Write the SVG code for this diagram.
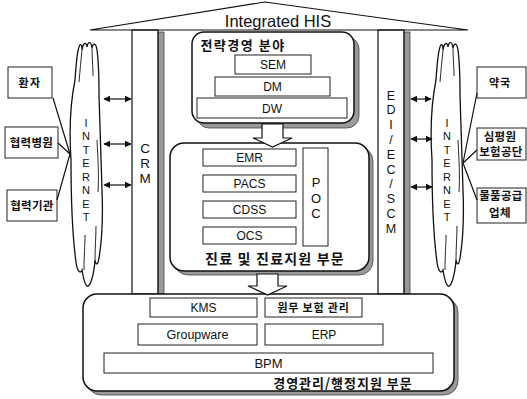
<svg xmlns="http://www.w3.org/2000/svg" width="527" height="399" viewBox="0 0 527 399">
<style>
.ln{fill:none;stroke:#111;stroke-width:1.2}
.bx{fill:#fff;stroke:#222;stroke-width:1}
.big{fill:#fff;stroke:#111;stroke-width:1.5}
.sh{fill:#9a9a9a;stroke:#444;stroke-width:0.8}
.en{font-family:"Liberation Sans",Arial,sans-serif;fill:#111;text-anchor:middle}
.ko{font-family:"Noto Sans CJK KR","Noto Sans",sans-serif;fill:#111;text-anchor:middle;font-weight:700}
.cl{fill:#fff;stroke:#111;stroke-width:1.3}
.cr{fill:none;stroke:#111;stroke-width:0.9}
</style>
<defs>
<marker id="ah" viewBox="0 0 10 10" refX="9" refY="5" markerWidth="7" markerHeight="7" orient="auto-start-reverse" markerUnits="userSpaceOnUse">
<path d="M0,0 L10,5 L0,10 Z" fill="#111"/>
</marker>
<path id="cloud" d="M71 160 C69 130 71 100 75 80 C76 65 77 52 79 47 C80 43 82 44 82 50 C83 43 86 41 87 47 C88 41 91 41 92 48 C93 42 96 43 97 50 C99 65 99 80 99 95 C100 130 101 160 102 190 C103 215 102 240 99 258 C98 265 96 266 95 260 C94 275 90 288 87 286 C84 284 83 275 82 270 C80 275 77 270 76 262 C73 240 71 200 71 160 Z"/>
</defs>
<rect width="527" height="399" fill="#fff"/>

<g id="roof">
<path class="ln" d="M90 30 L265 2 L468 30 Z"/>
<text class="en" x="278" y="27" font-size="16.5">Integrated HIS</text>
</g>

<g id="crm">
<rect class="sh" x="158" y="32" width="6" height="262"/>
<rect class="ln" x="132" y="30" width="26" height="264"/>
<text class="en" font-size="13.5"><tspan x="145" y="153">C</tspan><tspan x="145" y="168">R</tspan><tspan x="145" y="183">M</tspan></text>
</g>

<g id="edi">
<rect class="sh" x="404" y="32" width="6" height="262"/>
<rect class="ln" x="378" y="30" width="26" height="264"/>
<text class="en" font-size="12.5"><tspan x="391" y="99.5">E</tspan><tspan x="391" y="114.3">D</tspan><tspan x="391" y="129.1">I</tspan><tspan x="391" y="143.9">/</tspan><tspan x="391" y="158.7">E</tspan><tspan x="391" y="173.5">C</tspan><tspan x="391" y="188.3">/</tspan><tspan x="391" y="203.1">S</tspan><tspan x="391" y="217.9">C</tspan><tspan x="391" y="232.7">M</tspan></text>
</g>

<g id="internet-left">
<use href="#cloud" class="cl"/>
<path class="cr" d="M82 50 C81 60 80 70 79 82 M92 48 C92 58 93 66 93 76 M97 140 C98 160 99 175 98 192 M84 270 C84 255 85 245 85 235 M95 260 C95 247 96 237 96 226"/>
<text class="en" font-size="11"><tspan x="86" y="126.5">I</tspan><tspan x="86" y="140">N</tspan><tspan x="86" y="153.5">T</tspan><tspan x="86" y="167">E</tspan><tspan x="86" y="180.5">R</tspan><tspan x="86" y="194">N</tspan><tspan x="86" y="207.5">E</tspan><tspan x="86" y="221">T</tspan></text>
</g>

<g id="internet-right">
<use href="#cloud" class="cl" transform="translate(361,0)"/>
<path class="cr" transform="translate(361,0)" d="M82 50 C81 60 80 70 79 82 M92 48 C92 58 93 66 93 76 M97 140 C98 160 99 175 98 192 M84 270 C84 255 85 245 85 235 M95 260 C95 247 96 237 96 226"/>
<text class="en" font-size="11"><tspan x="447" y="126.5">I</tspan><tspan x="447" y="140">N</tspan><tspan x="447" y="153.5">T</tspan><tspan x="447" y="167">E</tspan><tspan x="447" y="180.5">R</tspan><tspan x="447" y="194">N</tspan><tspan x="447" y="207.5">E</tspan><tspan x="447" y="221">T</tspan></text>
</g>

<g id="patient"><rect class="bx" x="8" y="67" width="44" height="31"/><text class="ko" x="30" y="87" font-size="11" letter-spacing="1.5">환자</text></g>
<g id="partner-hospital"><rect class="bx" x="5" y="127" width="53" height="31"/><text class="ko" x="31.5" y="147" font-size="11.5" letter-spacing="0.3">협력병원</text></g>
<g id="partner-org"><rect class="bx" x="7" y="190" width="50" height="31"/><text class="ko" x="32" y="210" font-size="11.5" letter-spacing="0.3">협력기관</text></g>
<g id="pharmacy"><rect class="bx" x="477" y="67" width="49" height="31"/><text class="ko" x="500" y="87" font-size="11" letter-spacing="1">약국</text></g>
<g id="hira"><rect class="bx" x="477" y="128" width="49" height="32"/><text class="ko" font-size="11.5" letter-spacing="0.3"><tspan x="500" y="141">심평원</tspan><tspan x="501" y="156">보험공단</tspan></text></g>
<g id="supplier"><rect class="bx" x="477" y="188" width="49" height="35"/><text class="ko" font-size="11.5" letter-spacing="0.3"><tspan x="501" y="200">물품공급</tspan><tspan x="500" y="217">업체</tspan></text></g>

<g id="strategy">
<rect class="sh" x="197" y="37" width="162" height="91" rx="12"/>
<rect class="big" x="192" y="32" width="162" height="91" rx="12"/>
<text class="ko" x="243" y="50" font-size="13" letter-spacing="1.5">전략경영 분야</text>
<rect class="bx" x="235" y="55" width="76" height="19"/><text class="en" x="273" y="69" font-size="12">SEM</text>
<rect class="bx" x="215" y="77" width="115" height="19"/><text class="en" x="272.5" y="91" font-size="12">DM</text>
<rect class="bx" x="197" y="98" width="150" height="20"/><text class="en" x="272" y="112.5" font-size="12">DW</text>
</g>

<g id="clinical">
<rect class="sh" x="174" y="147" width="199" height="128" rx="14"/>
<rect class="big" x="170" y="143" width="199" height="128" rx="14"/>
<rect class="bx" x="203" y="149" width="93" height="17"/><text class="en" x="249.5" y="162" font-size="12">EMR</text>
<rect class="bx" x="203" y="175" width="93" height="17"/><text class="en" x="249.5" y="188" font-size="12">PACS</text>
<rect class="bx" x="203" y="201" width="93" height="17"/><text class="en" x="249.5" y="214" font-size="12">CDSS</text>
<rect class="bx" x="203" y="227" width="93" height="17"/><text class="en" x="249.5" y="240" font-size="12">OCS</text>
<rect class="bx" x="303" y="148" width="25" height="98"/>
<text class="en" font-size="13"><tspan x="316" y="187">P</tspan><tspan x="316" y="203">O</tspan><tspan x="316" y="218">C</tspan></text>
<text class="ko" x="275" y="264" font-size="14" letter-spacing="1.2">진료 및 진료지원 부문</text>
</g>

<g id="management">
<rect class="sh" x="87" y="298" width="371" height="97" rx="14"/>
<rect class="big" x="83" y="294" width="371" height="97" rx="14"/>
<rect class="bx" x="150" y="298" width="107" height="19"/><text class="en" x="203.5" y="312" font-size="12">KMS</text>
<rect class="bx" x="265" y="298" width="97" height="19"/><text class="ko" x="313.5" y="312" font-size="11" letter-spacing="0.8">원무 보험 관리</text>
<rect class="bx" x="138" y="324" width="119" height="21"/><text class="en" x="197.5" y="339" font-size="12.5">Groupware</text>
<rect class="bx" x="265" y="324" width="118" height="21"/><text class="en" x="324" y="339" font-size="12">ERP</text>
<rect class="bx" x="104" y="353" width="329" height="20"/><text class="en" x="268.5" y="368" font-size="13">BPM</text>
<text class="ko" x="343" y="388" font-size="13" letter-spacing="1">경영관리/행정지원 부문</text>
</g>

<g id="connectors">
<path class="ln" style="fill:#fff" d="M262 124 L283 124 L283 138 L292 138 L272.5 147 L253 138 L262 138 Z"/>
<path class="ln" style="fill:#fff" d="M257 274 L278 274 L278 286 L287 286 L267.5 295 L248 286 L257 286 Z"/>
<line class="ln" x1="104" y1="99" x2="131" y2="99" marker-start="url(#ah)" marker-end="url(#ah)"/>
<line class="ln" x1="104" y1="144" x2="131" y2="144" marker-start="url(#ah)" marker-end="url(#ah)"/>
<line class="ln" x1="104" y1="185" x2="131" y2="185" marker-start="url(#ah)" marker-end="url(#ah)"/>
<line class="ln" x1="411" y1="99" x2="431" y2="99" marker-start="url(#ah)" marker-end="url(#ah)"/>
<line class="ln" x1="411" y1="139" x2="432" y2="139" marker-start="url(#ah)" marker-end="url(#ah)"/>
<line class="ln" x1="411" y1="187" x2="432" y2="187" marker-start="url(#ah)" marker-end="url(#ah)"/>
<path class="ln" d="M53 98 L70 154 M58 143 L70 154 M57 200 L70 154"/>
<path class="ln" d="M477 93 L463 163 M477 150 L463 163 M477 200 L463 163"/>
</g>
</svg>
